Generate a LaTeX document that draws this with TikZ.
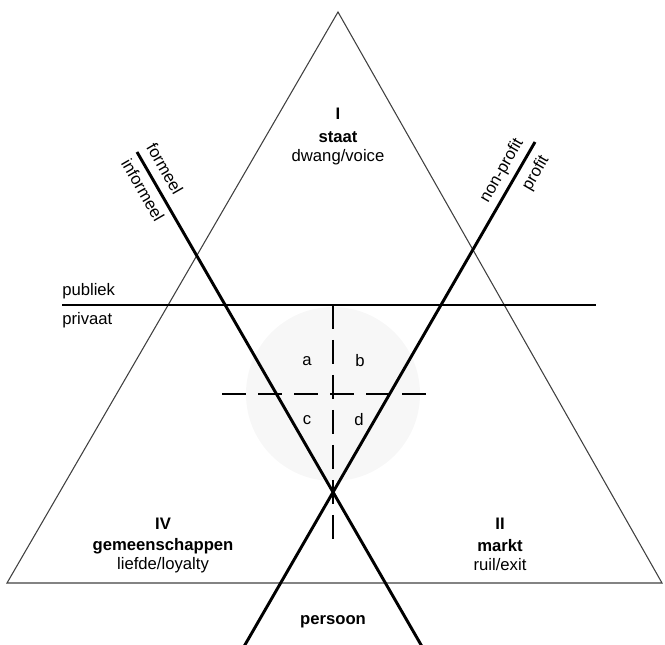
\documentclass[tikz,border=0pt]{standalone}
\usepackage{fontspec}
\setmainfont{Liberation Sans}
\begin{document}
\begin{tikzpicture}[x=0.75pt,y=-0.75pt,
  lbl/.style={font=\fontsize{12.5}{15}\selectfont, inner sep=0pt},
  blbl/.style={font=\fontsize{12.5}{15}\selectfont\bfseries, inner sep=0pt},
  thickline/.style={line width=2.2pt, black},
  vdash/.style={line width=2.2pt, black, dash pattern=on 18pt off 8.25pt},
  hdash/.style={line width=2.2pt, black, dash pattern=on 18pt off 9pt},
  tri/.style={line width=0.8pt, black!75}]
\useasboundingbox (0,0) rectangle (665,645);
% shaded circle
\fill[black!3] (333,394) circle (87);
% coordinates
\coordinate (apex) at (338,12);
\coordinate (bl) at (7,583);
\coordinate (br) at (662,583);
\coordinate (F1) at (137,152);
\coordinate (F2) at (424,650);
\coordinate (P1) at (535,142);
\coordinate (P2) at (242,650);
\coordinate (H1) at (62,305);
\coordinate (H2) at (596,305);
\coordinate (V1) at (333,305);
\coordinate (V2) at (333,540);
\coordinate (D1) at (222,394);
\coordinate (D2) at (426,394);
% triangle
\draw[tri] (bl) -- (apex) -- (br) -- cycle;
% lines
\draw[line width=1.6pt] (H1) -- (H2);
\draw[thickline] (F1) -- (F2);
\draw[thickline] (P1) -- (P2);
\draw[vdash] (V1) -- (V2);
\draw[hdash] (D1) -- (D2);
% texts
\node[blbl] (n1) at (338,114) {I};
\node[blbl] (staat) at (338,137) {staat};
\node[lbl] (dw) at (338,157) {dwang/voice};
\node[blbl] (n4) at (163,524) {IV};
\node[blbl] (gem) at (163,546) {gemeenschappen};
\node[lbl] (lief) at (163,565) {liefde/loyalty};
\node[blbl] (n2) at (500,524) {II};
\node[blbl] (markt) at (500,546) {markt};
\node[lbl] (ruil) at (500,565) {ruil/exit};
\node[blbl] (pers) at (333,622) {persoon};
\node[lbl, anchor=west] (pub) at (62,291) {publiek};
\node[lbl, anchor=west] (priv) at (62,320) {privaat};
\node[lbl] (a) at (307,361) {a};
\node[lbl] (b) at (360,361) {b};
\node[lbl] (c) at (307,420) {c};
\node[lbl] (d) at (359,420) {d};
\node[lbl, rotate=-60] (form) at (165,169) {formeel};
\node[lbl, rotate=-60] (inform) at (143,190) {informeel};
\node[lbl, rotate=60] (np) at (502,171) {non-profit};
\node[lbl, rotate=60] (pr) at (536,173) {profit};
\end{tikzpicture}
\end{document}
